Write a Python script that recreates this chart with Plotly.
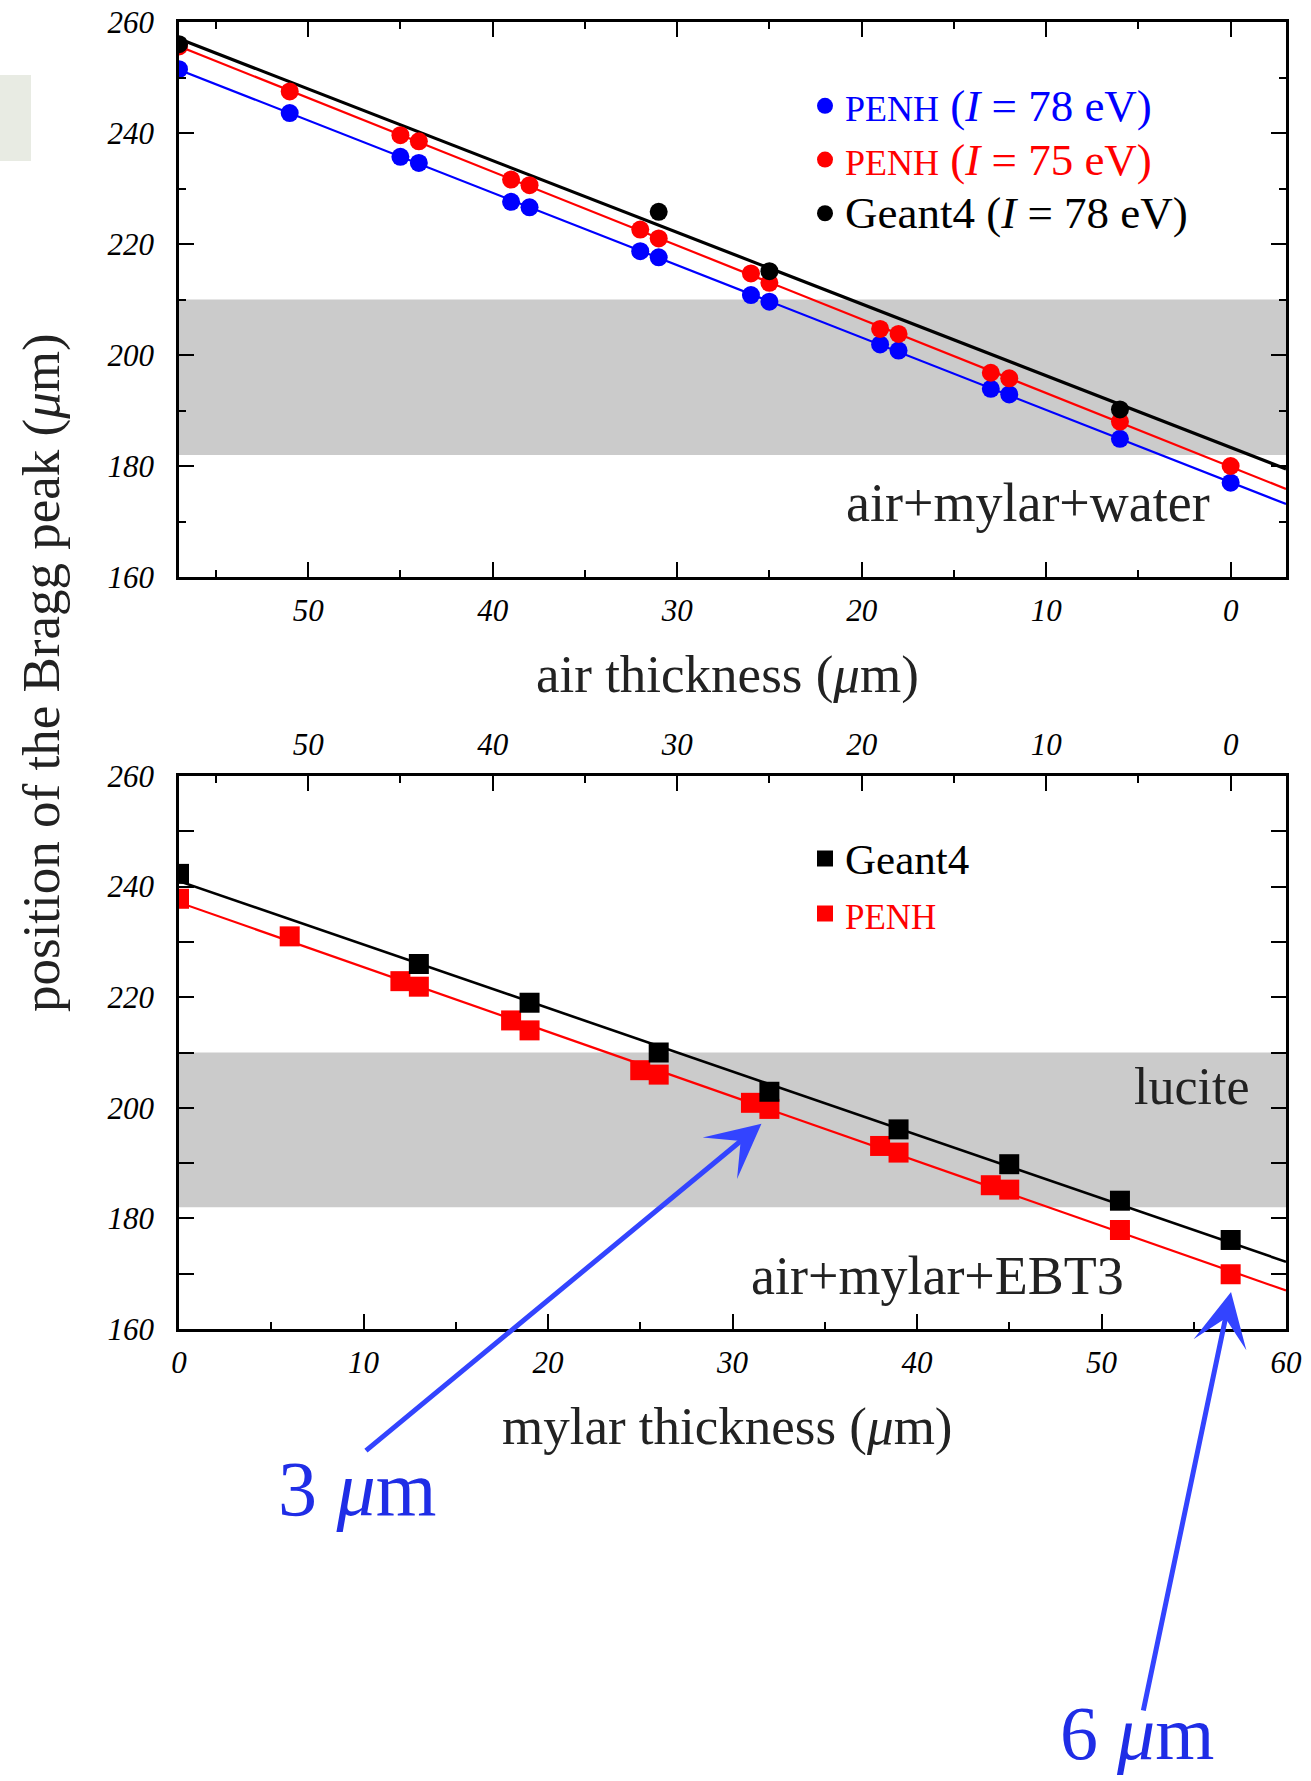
import numpy as np
import plotly.graph_objects as go

# ---------------- data ----------------
air = [57, 51, 45, 44, 39, 38, 32, 31, 26, 25, 19, 18, 13, 12, 6, 0]
penh78_water = [251.5, 243.6, 235.7, 234.6, 227.6, 226.6, 218.7, 217.6,
                210.8, 209.6, 201.9, 200.8, 193.9, 192.9, 184.9, 177.0]
penh75_water = [255.6, 247.5, 239.6, 238.5, 231.6, 230.6, 222.6, 221.0,
                214.7, 213.0, 204.7, 203.8, 196.8, 195.8, 188.0, 180.0]
g4_air = [57, 31, 25, 6]
g4_water = [256.0, 225.8, 215.1, 190.2]

mylar = [0, 6, 12, 13, 18, 19, 25, 26, 31, 32, 38, 39, 44, 45, 51, 57]
penh_ebt3 = [237.8, 231.0, 222.9, 221.9, 215.8, 214.0, 206.8, 206.0,
             200.9, 199.8, 193.1, 191.9, 186.0, 185.2, 177.9, 169.9]
g4_mylar = [0, 13, 19, 26, 32, 39, 45, 51, 57]
g4_ebt3 = [242.3, 226.0, 219.0, 210.0, 202.9, 196.1, 189.8, 183.2, 176.1]

band = [182, 210]
air_range = [57, -3]
mylar_range = [0, 60]
y_range = [160, 260]

# ---------------- geometry helpers (pixel -> paper) ----------------
W, H = 1311, 1781
L, R, T, B = 179, 25, 22, 452
PW, PH = W - L - R, H - T - B


def px(x):
    return (x - L) / PW


def py(y):
    return (H - B - y) / PH


def fit(x, y, xr):
    c = np.polyfit(x, y, 1)
    xs = np.array(xr, dtype=float)
    return xs, np.polyval(c, xs)


BLUE, RED, BLACK = "#0000ff", "#ff0000", "#000000"
SERIF = "Liberation Serif"

fig = go.Figure()

# top panel fit lines
for xs, ys, col, w in [(air, penh78_water, BLUE, 2.2),
                       (air, penh75_water, RED, 2.2),
                       (g4_air, g4_water, BLACK, 3.2)]:
    fx, fy = fit(xs, ys, air_range)
    fig.add_trace(go.Scatter(x=fx, y=fy, mode="lines", line=dict(color=col, width=w),
                             showlegend=False, hoverinfo="skip", xaxis="x", yaxis="y"))

big = "font-size:45px"
sc = "font-size:36px"
fig.add_trace(go.Scatter(
    x=air, y=penh78_water, mode="markers", marker=dict(color=BLUE, size=18),
    name=f"<span style='color:{BLUE};{big}'><span style='{sc}'>PENH</span> (<i>I</i> = 78 eV)</span>",
    legend="legend", xaxis="x", yaxis="y"))
fig.add_trace(go.Scatter(
    x=air, y=penh75_water, mode="markers", marker=dict(color=RED, size=18),
    name=f"<span style='color:{RED};{big}'><span style='{sc}'>PENH</span> (<i>I</i> = 75 eV)</span>",
    legend="legend", xaxis="x", yaxis="y"))
fig.add_trace(go.Scatter(
    x=g4_air, y=g4_water, mode="markers", marker=dict(color=BLACK, size=18),
    name=f"<span style='{big}'>Geant4 (<i>I</i> = 78 eV)</span>", legend="legend",
    xaxis="x", yaxis="y"))

# bottom panel fit lines
for xs, ys, col, w in [(mylar, penh_ebt3, RED, 2.2),
                       (g4_mylar, g4_ebt3, BLACK, 2.6)]:
    fx, fy = fit(xs, ys, mylar_range)
    fig.add_trace(go.Scatter(x=fx, y=fy, mode="lines", line=dict(color=col, width=w),
                             showlegend=False, hoverinfo="skip", xaxis="x2", yaxis="y2"))

fig.add_trace(go.Scatter(
    x=mylar, y=penh_ebt3, mode="markers", marker=dict(color=RED, size=20, symbol="square"),
    name=f"<span style='color:{RED};font-size:35px'>PENH</span>", legend="legend2", legendrank=2,
    xaxis="x2", yaxis="y2"))
fig.add_trace(go.Scatter(
    x=g4_mylar, y=g4_ebt3, mode="markers", marker=dict(color=BLACK, size=20, symbol="square"),
    name="<span style='font-size:43px'>Geant4</span>", legend="legend2", legendrank=1,
    xaxis="x2", yaxis="y2"))

# empty trace to host the secondary top axis of the lower panel
fig.add_trace(go.Scatter(x=[], y=[], xaxis="x3", yaxis="y2", showlegend=False))

tickfont = dict(family=SERIF, size=31, color="black", style="italic")
common = dict(showgrid=False, zeroline=False, showline=True, linecolor="black", linewidth=2.5,
              ticks="inside", ticklen=15, tickwidth=2, tickcolor="black", tickfont=tickfont,
              automargin=False)
minor_x = dict(ticks="inside", dtick=5, tick0=0, ticklen=7, tickwidth=2, tickcolor="black")
minor_y = dict(ticks="inside", dtick=10, tick0=160, ticklen=7, tickwidth=2, tickcolor="black")

top_dom = [py(577), 1]
bot_dom = [0, py(776)]

fig.update_layout(
    width=W, height=H,
    margin=dict(l=L, r=R, t=T, b=B, autoexpand=False),
    plot_bgcolor="white", paper_bgcolor="white",
    xaxis=dict(domain=[0, 1], anchor="y", range=air_range, tick0=0, dtick=10, minor=minor_x,
               mirror="allticks", ticklabelstandoff=4, **common),
    yaxis=dict(domain=top_dom, anchor="x", range=y_range, tick0=160, dtick=20, minor=minor_y,
               mirror="allticks", ticklabelstandoff=16, **common),
    xaxis2=dict(domain=[0, 1], anchor="y2", range=mylar_range, tick0=0, dtick=10, minor=minor_x,
                mirror=True, ticklabelstandoff=4, **common),
    yaxis2=dict(domain=bot_dom, anchor="x2", range=y_range, tick0=160, dtick=20, minor=minor_y,
                mirror="allticks", ticklabelstandoff=16, **common),
    xaxis3=dict(overlaying="x2", anchor="y2", side="top", range=air_range, tick0=0, dtick=10,
                minor=minor_x, showgrid=False, zeroline=False, showline=False, automargin=False,
                ticks="inside", ticklen=15, tickwidth=2, tickcolor="black", tickfont=tickfont,
                ticklabelstandoff=14),
    legend=dict(x=px(805), y=py(74), xanchor="left", yanchor="top", bgcolor="rgba(0,0,0,0)",
                font=dict(family=SERIF, size=39, color="black"), tracegroupgap=0),
    legend2=dict(x=px(805), y=py(826), xanchor="left", yanchor="top", bgcolor="rgba(0,0,0,0)",
                 font=dict(family=SERIF, size=40, color="black"), tracegroupgap=0),
    showlegend=True,
)

# grey bands
for xr, yr in [("x domain", "y"), ("x2 domain", "y2")]:
    fig.add_shape(type="rect", xref=xr, yref=yr, x0=0, x1=1, y0=band[0], y1=band[1],
                  fillcolor="#cbcbcb", line=dict(width=0), layer="below")

# small grey artifact at top-left
fig.add_shape(type="rect", xref="paper", yref="paper", x0=px(0), x1=px(31), y0=py(161), y1=py(75),
              fillcolor="#e8ebe3", line=dict(width=0), layer="below")

TXT = "#222222"
ann = [
    dict(text="position of the Bragg peak (<i>μ</i>m)", x=px(41), y=py(673), textangle=-90, size=53, color=TXT),
    dict(text="air thickness (<i>μ</i>m)", x=px(727), y=py(674), size=53, color=TXT),
    dict(text="mylar thickness (<i>μ</i>m)", x=px(727), y=py(1426), size=53, color=TXT),
    dict(text="air+mylar+water", x=px(1028), y=py(503), size=54, color=TXT),
    dict(text="lucite", x=px(1192), y=py(1086), size=52, color=TXT),
    dict(text="air+mylar+EBT3", x=px(937), y=py(1276), size=54, color=TXT),
    dict(text="3 <i>μ</i>m", x=px(357), y=py(1488), size=78, color="#1f2de6"),
    dict(text="6 <i>μ</i>m", x=px(1137), y=py(1733), size=76, color="#1f2de6"),
]
for a in ann:
    fig.add_annotation(text=a["text"], xref="paper", yref="paper", x=a["x"], y=a["y"],
                       xanchor="center", yanchor="middle", showarrow=False,
                       textangle=a.get("textangle", 0),
                       font=dict(family=SERIF, size=a["size"], color=a["color"]))

# blue arrows (head in data coords of lower panel, tail offset in pixels)
for hx, hy, axp, ayp in [(31.57, 197.1, -397, 328), (57.02, 166.7, -88, 420)]:
    fig.add_annotation(x=hx, y=hy, xref="x2", yref="y2", ax=axp, ay=ayp, text="",
                       showarrow=True, arrowhead=3, arrowsize=1.8, arrowwidth=5,
                       arrowcolor="#3344ff", standoff=0)

fig.write_html("out.html")
